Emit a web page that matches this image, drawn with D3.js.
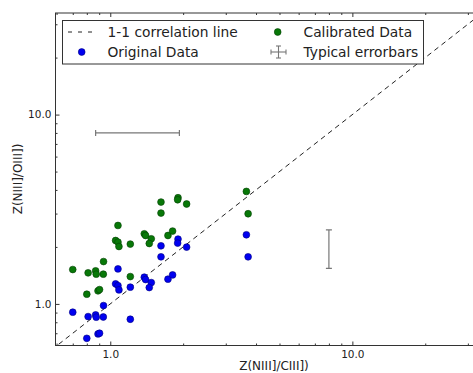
<!DOCTYPE html>
<html>
<head>
<meta charset="utf-8">
<script src="https://cdn.jsdelivr.net/npm/d3@7"></script>
<style>
  html, body { margin: 0; padding: 0; background: #fff; }
  svg { display: block; font-family: "DejaVu Sans", sans-serif; }
</style>
</head>
<body>
<svg id="chart" width="473" height="373"></svg>
<script>
// Metallicity from N III]/C III] (x) versus N III]/O III] (y)
const xValues = [0.70, 0.81, 0.87, 0.875, 0.936, 0.938, 0.80, 0.89, 0.903,
  1.076, 1.052, 1.076, 1.086, 1.21, 1.21, 1.382, 1.399, 1.477, 1.449,
  1.62, 1.62, 1.731, 1.809, 1.905, 1.898, 2.067, 3.65, 3.71];
const originalZ = [0.904, 0.857, 0.875, 0.851, 0.853, 0.98, 0.658, 0.694, 0.70,
  1.531, 1.276, 1.25, 1.186, 1.226, 0.83, 1.384, 1.345, 1.296, 1.22,
  2.027, 1.773, 1.351, 1.423, 2.199, 2.095, 1.995, 2.318, 1.773];
const calibratedZ = [1.519, 1.459, 1.495, 1.436, 1.436, 1.674, 1.125, 1.172, 1.19,
  2.596, 2.162, 2.121, 2.01, 2.07, 1.394, 2.346, 2.298, 2.208, 2.085,
  3.452, 3.019, 2.298, 2.425, 3.638, 3.549, 3.37, 3.928, 2.994];

// Typical error bars: centre and half-widths
const errCenterX = [1.4, 8];
const errCenterY = [8, 2];
const errHalfX = [0.53, 0];
const errHalfY = [0, 0.46];

const majorTicks = [1, 10];
const minorTicksX = [0.6, 0.7, 0.8, 0.9, 2, 3, 4, 5, 6, 7, 8, 9, 20, 30];
const minorTicksY = [0.7, 0.8, 0.9, 2, 3, 4, 5, 6, 7, 8, 9, 20, 30];
const xDomain = [0.594, 31.8];
const yDomain = [0.603, 34.4];

const legendItems = ["1-1 correlation line", "Original Data", "Calibrated Data", "Typical errorbars"];
const xTitle = "Z(NIII]/CIII])";
const yTitle = "Z(NIII]/OIII])";

const svg = d3.select("#chart");
const plot = { left: 55.5, top: 13, right: 474, bottom: 345.5 };

const x = d3.scaleLog().domain(xDomain).range([plot.left, plot.right]);
const y = d3.scaleLog().domain(yDomain).range([plot.bottom, plot.top]);

svg.append("defs").append("clipPath").attr("id", "plotClip")
  .append("rect")
  .attr("x", plot.left).attr("y", plot.top)
  .attr("width", plot.right - plot.left).attr("height", plot.bottom - plot.top);

const inner = svg.append("g").attr("clip-path", "url(#plotClip)");

// 1-1 line
const diag = [0.5, 40];
inner.append("line")
  .attr("x1", x(diag[0])).attr("y1", y(diag[0]))
  .attr("x2", x(diag[1])).attr("y2", y(diag[1]))
  .attr("stroke", "#222").attr("stroke-width", 1)
  .attr("stroke-dasharray", "5,4");

const fmt = d3.format(".1f");
const tickColor = "#333";

function styleAxis(g) {
  g.select(".domain").remove();
  g.selectAll(".tick line").attr("stroke", tickColor);
  g.selectAll(".tick text").attr("fill", "#222").attr("font-size", "10.5px")
    .attr("font-family", "DejaVu Sans, sans-serif");
}

// major + minor ticks on all sides, pointing inward
svg.append("g").attr("transform", `translate(0,${plot.bottom})`)
  .call(d3.axisBottom(x).tickValues(majorTicks).tickFormat(fmt).tickSize(-4).tickPadding(5))
  .call(styleAxis);
svg.append("g").attr("transform", `translate(0,${plot.bottom})`)
  .call(d3.axisBottom(x).tickValues(minorTicksX).tickFormat("").tickSize(-2))
  .call(styleAxis);
svg.append("g").attr("transform", `translate(0,${plot.top})`)
  .call(d3.axisTop(x).tickValues(majorTicks).tickFormat("").tickSize(-4))
  .call(styleAxis);
svg.append("g").attr("transform", `translate(0,${plot.top})`)
  .call(d3.axisTop(x).tickValues(minorTicksX).tickFormat("").tickSize(-2))
  .call(styleAxis);
svg.append("g").attr("transform", `translate(${plot.left},0)`)
  .call(d3.axisLeft(y).tickValues(majorTicks).tickFormat(fmt).tickSize(-4).tickPadding(4))
  .call(styleAxis);
svg.append("g").attr("transform", `translate(${plot.left},0)`)
  .call(d3.axisLeft(y).tickValues(minorTicksY).tickFormat("").tickSize(-2))
  .call(styleAxis);

// data points
const pts = xValues.map((v, i) => ({ x: v, orig: originalZ[i], cal: calibratedZ[i] }));
inner.append("g").selectAll("circle").data(pts).join("circle")
  .attr("cx", d => x(d.x)).attr("cy", d => y(d.orig)).attr("r", 3.4)
  .attr("fill", "#0000f0").attr("stroke", "#000080").attr("stroke-width", 0.6);
inner.append("g").selectAll("circle").data(pts).join("circle")
  .attr("cx", d => x(d.x)).attr("cy", d => y(d.cal)).attr("r", 3.4)
  .attr("fill", "#087808").attr("stroke", "#034003").attr("stroke-width", 0.6);

// typical error bars
const errColor = "#777";
const cap = 3;
errCenterX.forEach((cx, i) => {
  const cy = errCenterY[i];
  const g = inner.append("g").attr("stroke", errColor).attr("stroke-width", 1.2);
  if (errHalfX[i] > 0) {
    const x0 = x(cx - errHalfX[i]), x1 = x(cx + errHalfX[i]), yy = y(cy);
    g.append("line").attr("x1", x0).attr("x2", x1).attr("y1", yy).attr("y2", yy);
    g.append("line").attr("x1", x0).attr("x2", x0).attr("y1", yy - cap).attr("y2", yy + cap);
    g.append("line").attr("x1", x1).attr("x2", x1).attr("y1", yy - cap).attr("y2", yy + cap);
  }
  if (errHalfY[i] > 0) {
    const y0 = y(cy - errHalfY[i]), y1 = y(cy + errHalfY[i]), xx = x(cx);
    g.append("line").attr("x1", xx).attr("x2", xx).attr("y1", y0).attr("y2", y1);
    g.append("line").attr("x1", xx - cap).attr("x2", xx + cap).attr("y1", y0).attr("y2", y0);
    g.append("line").attr("x1", xx - cap).attr("x2", xx + cap).attr("y1", y1).attr("y2", y1);
  }
});

// frame
svg.append("rect")
  .attr("x", plot.left).attr("y", plot.top)
  .attr("width", plot.right - plot.left).attr("height", plot.bottom - plot.top)
  .attr("fill", "none").attr("stroke", "#333").attr("stroke-width", 1);

// axis titles
svg.append("text").attr("x", 274).attr("y", 370).attr("text-anchor", "middle")
  .attr("font-size", "12px").attr("fill", "#222").text(xTitle);
svg.append("text").attr("transform", `translate(22,179) rotate(-90)`)
  .attr("text-anchor", "middle").attr("font-size", "12px").attr("fill", "#222").text(yTitle);

// legend
const leg = svg.append("g");
leg.append("rect").attr("x", 62.5).attr("y", 20.5).attr("width", 361).attr("height", 43.5)
  .attr("fill", "#fff").attr("stroke", "#333").attr("stroke-width", 1);
const rowY = [32, 52];
const colX = [68, 272];
const textX = [107.5, 303.5];
const legFont = "13.8px";
// dashed line sample
leg.append("line").attr("x1", colX[0]).attr("x2", colX[0] + 30).attr("y1", rowY[0]).attr("y2", rowY[0])
  .attr("stroke", "#222").attr("stroke-width", 1).attr("stroke-dasharray", "4,6");
// original data dot
leg.append("circle").attr("cx", 81.7).attr("cy", rowY[1]).attr("r", 3.4)
  .attr("fill", "#0000f0").attr("stroke", "#000080").attr("stroke-width", 0.6);
// calibrated data dot
leg.append("circle").attr("cx", 277.7).attr("cy", rowY[0]).attr("r", 3.4)
  .attr("fill", "#087808").attr("stroke", "#034003").attr("stroke-width", 0.6);
// errorbar cross
const eg = leg.append("g").attr("stroke", errColor).attr("stroke-width", 1.1);
eg.append("line").attr("x1", 271).attr("x2", 286).attr("y1", rowY[1]).attr("y2", rowY[1]);
eg.append("line").attr("x1", 271).attr("x2", 271).attr("y1", rowY[1] - 2.5).attr("y2", rowY[1] + 2.5);
eg.append("line").attr("x1", 286).attr("x2", 286).attr("y1", rowY[1] - 2.5).attr("y2", rowY[1] + 2.5);
eg.append("line").attr("x1", 278.5).attr("x2", 278.5).attr("y1", rowY[1] - 6).attr("y2", rowY[1] + 6);
eg.append("line").attr("x1", 276).attr("x2", 281).attr("y1", rowY[1] - 6).attr("y2", rowY[1] - 6);
eg.append("line").attr("x1", 276).attr("x2", 281).attr("y1", rowY[1] + 6).attr("y2", rowY[1] + 6);

const labelPos = [[textX[0], rowY[0]], [textX[0], rowY[1]], [textX[1], rowY[0]], [textX[1], rowY[1]]];
legendItems.forEach((t, i) => {
  leg.append("text").attr("x", labelPos[i][0]).attr("y", labelPos[i][1]).attr("dy", "0.36em")
    .attr("font-size", legFont).attr("fill", "#222").text(t);
});
</script>
</body>
</html>
